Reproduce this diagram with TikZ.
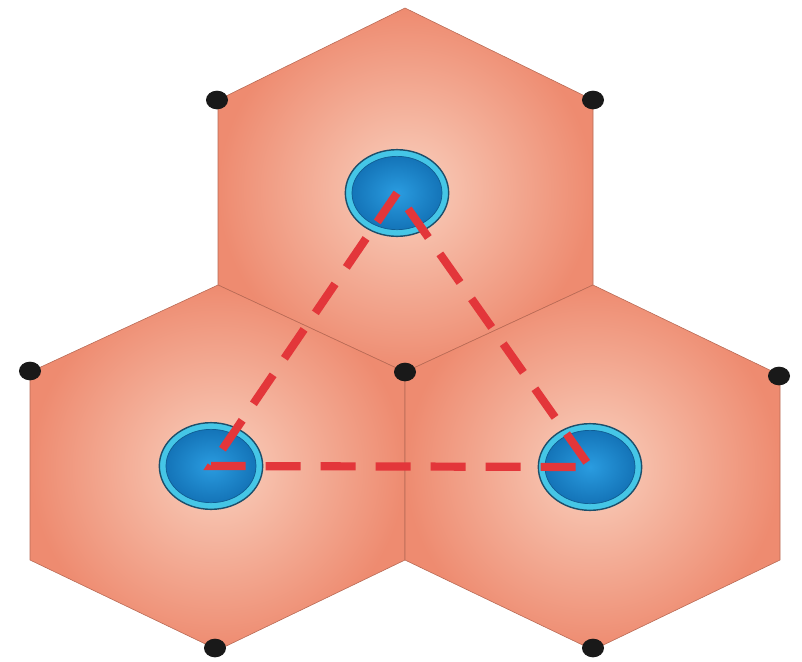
\documentclass[tikz,border=0pt]{standalone}
\usetikzlibrary{shapes.geometric}

\definecolor{hexin}{HTML}{F9D0BE}
\definecolor{hexout}{HTML}{EE8B70}
\definecolor{hexline}{HTML}{B86A55}
\definecolor{ringdark}{HTML}{1D4F6B}
\definecolor{ringcyan}{HTML}{45C6E6}
\definecolor{corein}{HTML}{2A9CE0}
\definecolor{coreout}{HTML}{1474B8}
\definecolor{linkred}{HTML}{E3363A}

\begin{document}
\begin{tikzpicture}[x=0.03cm,y=-0.03cm]

% ---------- styles ----------
\tikzset{
  cell/.style={draw=hexline, line width=0.5pt, inner color=hexin, outer color=hexout},
  corner/.style={ellipse, fill=black!90, inner sep=0pt, minimum width=0.66cm, minimum height=0.56cm},
  nucleus/.style={ellipse, draw=ringdark, line width=1.2pt, fill=ringcyan, inner sep=0pt,
    minimum width=3.1cm, minimum height=2.6cm},
  core/.style={ellipse, draw=coreout!80!black, line width=0.6pt, inner color=corein, outer color=coreout,
    inner sep=0pt, minimum width=2.7cm, minimum height=2.2cm},
  link/.style={draw=linkred, line width=7pt, dash pattern=on 1.05cm off 0.6cm}
}

% ---------- frame ----------
\useasboundingbox (0,0) rectangle (802,661);

% ---------- cells ----------
% top cell
\path[cell] (405,8) -- (593,100) -- (593,285) -- (405,372) -- (218,285) -- (218,100) -- cycle;
% left cell
\path[cell] (218,285) -- (405,372) -- (405,560) -- (218,650) -- (30,560) -- (30,372) -- cycle;
% right cell
\path[cell] (593,285) -- (780,375) -- (780,560) -- (593,650) -- (405,560) -- (405,372) -- cycle;

% ---------- corner dots ----------
\foreach \x/\y [count=\i] in {217/100, 593/100, 30/371, 405/372, 779/376, 215/648, 593/648}
  \node[corner] (c\i) at (\x,\y) {};

% ---------- nuclei ----------
\node[nucleus] (nucT) at (397,193) {};
\node[core] (nucT-in) at (397,193) {};
\node[nucleus] (nucL) at (211,466) {};
\node[core] (nucL-in) at (211,466) {};
\node[nucleus] (nucR) at (590,467) {};
\node[core] (nucR-in) at (590,467) {};

% ---------- links ----------
\path[link] (nucT.center) -- (nucL.center) -- (nucR.center) -- cycle;

\end{tikzpicture}
\end{document}
